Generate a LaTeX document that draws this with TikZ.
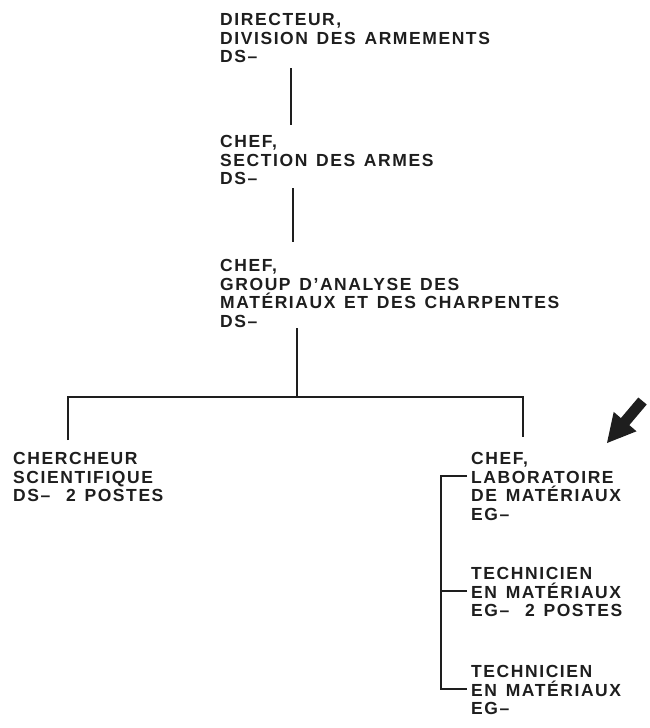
\documentclass[tikz,border=0pt]{standalone}
\usepackage{fontspec}
\newfontfamily\orgfont[LetterSpace=9,WordSpace=1.35,UprightFont=* Bold]{Liberation Sans}
\usetikzlibrary{calc}
\definecolor{ink}{RGB}{30,30,30}
\begin{document}
\begin{tikzpicture}[x=1pt,y=-1pt,
  post/.style={anchor=north west,inner sep=0pt,align=left,text=ink,
    font=\orgfont\fontsize{17.5}{18.7}\selectfont},
  conn/.style={draw=ink,line width=1.6pt}]
\useasboundingbox (0,0) rectangle (650,728);
\node[post] (n1) at (220,13) {DIRECTEUR,\\DIVISION DES ARMEMENTS\\DS–};
\node[post] (n2) at (220,135) {CHEF,\\SECTION DES ARMES\\DS–};
\node[post] (n3) at (220,259) {CHEF,\\GROUP D’ANALYSE DES\\MATÉRIAUX ET DES CHARPENTES\\DS–};
\node[post] (n4) at (13,452) {CHERCHEUR\\SCIENTIFIQUE\\DS–\hspace{0.9em}2 POSTES};
\node[post] (n5) at (471,452) {CHEF,\\LABORATOIRE\\DE MATÉRIAUX\\EG–};
\node[post] (n6) at (471,567) {TECHNICIEN\\EN MATÉRIAUX\\EG–\hspace{0.9em}2 POSTES};
\node[post] (n7) at (471,665) {TECHNICIEN\\EN MATÉRIAUX\\EG–};
% vertical chain
\draw[conn] ($(n1.north west)+(71,55)$) -- ($(n2.north west)+(71,-10)$);
\draw[conn] ($(n2.north west)+(73,53)$) -- ($(n3.north west)+(73,-17)$);
\coordinate (j) at ($(n3.north west)+(77,138)$);
\draw[conn] ($(n3.north west)+(77,69)$) -- (j);
\draw[conn] ($(n4.north west)+(55,-12)$) |- (j) -| ($(n5.north west)+(52,-15)$);
% right bracket
\coordinate (bar) at (441,0);
\coordinate (b5) at ($(n5.north west)+(-4,24)$);
\coordinate (b6) at ($(n6.north west)+(-4,24)$);
\coordinate (b7) at ($(n7.north west)+(-4,24)$);
\draw[conn] (b5) -- (b5 -| bar) |- (b7);
\draw[conn] (b6) -- (b6 -| bar);
% pointer arrow
\fill[ink] (607,443) -- (636.5,431.3) -- (629.3,425.1) -- (646.7,404.5)
  -- (638.3,397.5) -- (620.9,418.1) -- (613.7,411.9) -- cycle;
\end{tikzpicture}
\end{document}
